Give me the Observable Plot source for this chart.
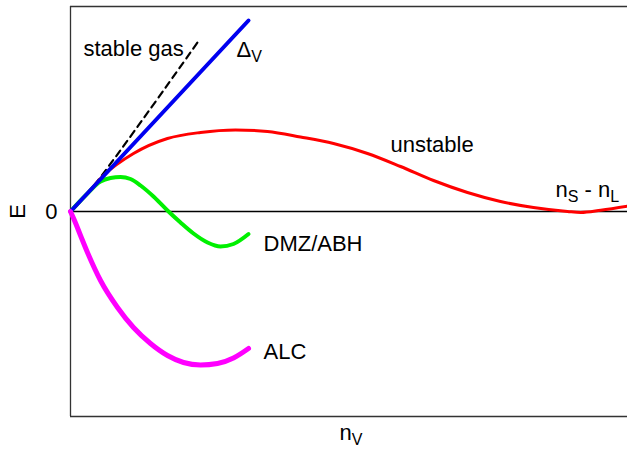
<!DOCTYPE html>
<html>
<head>
<meta charset="utf-8">
<script src="https://cdn.jsdelivr.net/npm/d3@7"></script>
<script src="https://cdn.jsdelivr.net/npm/@observablehq/plot@0.6"></script>
<style>
  html, body { margin: 0; padding: 0; background: #fff; }
  #chart text { font-family: "Liberation Sans", Arial, sans-serif; }
</style>
</head>
<body>
<div id="chart"></div>
<script>
// ---- data (schematic units: x 0..100, y -100..100) ----
const deltaX = [0, 31.96];
const deltaY = [0, 93.17];

const gasX = [0, 3.59, 22.8];
const gasY = [0, 10.49, 82.44];

const unstableX = [0, 2.69, 5.92, 11.31, 17.41, 23.34, 29.62, 35.37, 41.29, 47.22, 53.32, 59.25, 65.17, 71.27, 77.20, 83.12, 89.23, 91.6, 95.2, 100];
const unstableY = [0, 7.80, 17.56, 28.29, 35.61, 38.54, 39.76, 39.02, 36.34, 33.17, 28.29, 21.95, 15.12, 9.27, 4.88, 1.95, 0.0, -0.5, 0.6, 2.6];

const dmzX = [0, 2.69, 5.39, 7.18, 8.98, 10.77, 12.57, 14.90, 17.41, 19.75, 22.08, 24.60, 26.93, 29.26, 31.96];
const dmzY = [0, 7.80, 14.63, 16.34, 16.83, 15.85, 12.68, 7.32, 0.49, -5.37, -10.73, -15.12, -17.07, -15.85, -10.98];

const alcX = [0, 0.72, 1.80, 3.05, 5.39, 8.44, 11.31, 14.36, 17.41, 20.29, 23.34, 26.39, 29.26, 31.96];
const alcY = [0, -4.39, -11.71, -20.0, -33.66, -46.83, -56.59, -64.39, -70.24, -73.66, -74.88, -74.15, -71.46, -66.83];

const labelText = ["stable gas", "Δ_V", "unstable", "n_S - n_L", "DMZ/ABH", "ALC", "n_V"];
const labelX = [2.33, 29.8, 57.45, 87.07, 34.65, 34.65, 48.3];
const labelY = [79.5, 79.0, 32.4, 10.3, -15.6, -68.3, -108.1];

const yTickValues = [0];
const yTickLabels = ["0"];
const yAxisLabel = "E";

// ---- build tables ----
const toRows = (xs, ys) => xs.map((x, i) => ({x, y: ys[i]}));
const delta = toRows(deltaX, deltaY);
const gas = toRows(gasX, gasY);
const unstable = toRows(unstableX, unstableY);
const dmz = toRows(dmzX, dmzY);
const alc = toRows(alcX, alcY);
const labels = labelText.map((t, i) => ({t, x: labelX[i], y: labelY[i]}));
const ticks = yTickValues.map((v, i) => ({v, t: yTickLabels[i]}));

const chart = Plot.plot({
  width: 627,
  height: 449,
  marginLeft: 70,
  marginRight: 0,
  marginTop: 6,
  marginBottom: 33,
  x: {domain: [0, 100], axis: null},
  y: {domain: [-100, 100], axis: null},
  style: {fontFamily: "Liberation Sans, Arial, sans-serif", fontSize: "22px", background: "#fff"},
  marks: [
    Plot.ruleY([-100, 100], {stroke: "#333", strokeWidth: 1.3}),
    Plot.ruleX([0], {stroke: "#333", strokeWidth: 1.3}),
    Plot.ruleY([0], {stroke: "#000", strokeWidth: 1.5}),
    Plot.line(gas, {x: "x", y: "y", stroke: "#000", strokeWidth: 2.2, strokeDasharray: "7,5", curve: "catmull-rom"}),
    Plot.line(unstable, {x: "x", y: "y", stroke: "#ff0000", strokeWidth: 3, curve: "monotone-x"}),
    Plot.line(dmz, {x: "x", y: "y", stroke: "#00f000", strokeWidth: 4, curve: "monotone-x"}),
    Plot.line(delta, {x: "x", y: "y", stroke: "#0000f0", strokeWidth: 4}),
    Plot.line(alc, {x: "x", y: "y", stroke: "#ff00ff", strokeWidth: 5, curve: "monotone-x"}),
    Plot.text(labels, {x: "x", y: "y", text: "t", textAnchor: "start", fontSize: 22, fill: "#000"}),
    Plot.text(ticks, {x: () => 0, y: "v", text: "t", textAnchor: "end", dx: -13, fontSize: 22, fill: "#000"}),
    Plot.text([yAxisLabel], {x: () => 0, y: () => 0, text: d => d, dx: -52.5, rotate: -90, fontSize: 22, fill: "#000"})
  ]
});

// subscripts: "a_B" -> a with subscript B
d3.select(chart).selectAll("text").each(function () {
  const t = this.textContent;
  if (!t.includes("_")) return;
  const parts = t.split(/_(.)/);
  const el = d3.select(this);
  el.text(null);
  let low = false;
  parts.forEach((p, i) => {
    if (p === "") return;
    const sp = el.append("tspan").text(p);
    if (i % 2 === 1) {
      sp.attr("font-size", 16);
      if (!low) { sp.attr("dy", 5); low = true; }
    } else {
      sp.attr("font-size", 22);
      if (low) { sp.attr("dy", -5); low = false; }
    }
  });
});

document.getElementById("chart").appendChild(chart);
</script>
</body>
</html>
